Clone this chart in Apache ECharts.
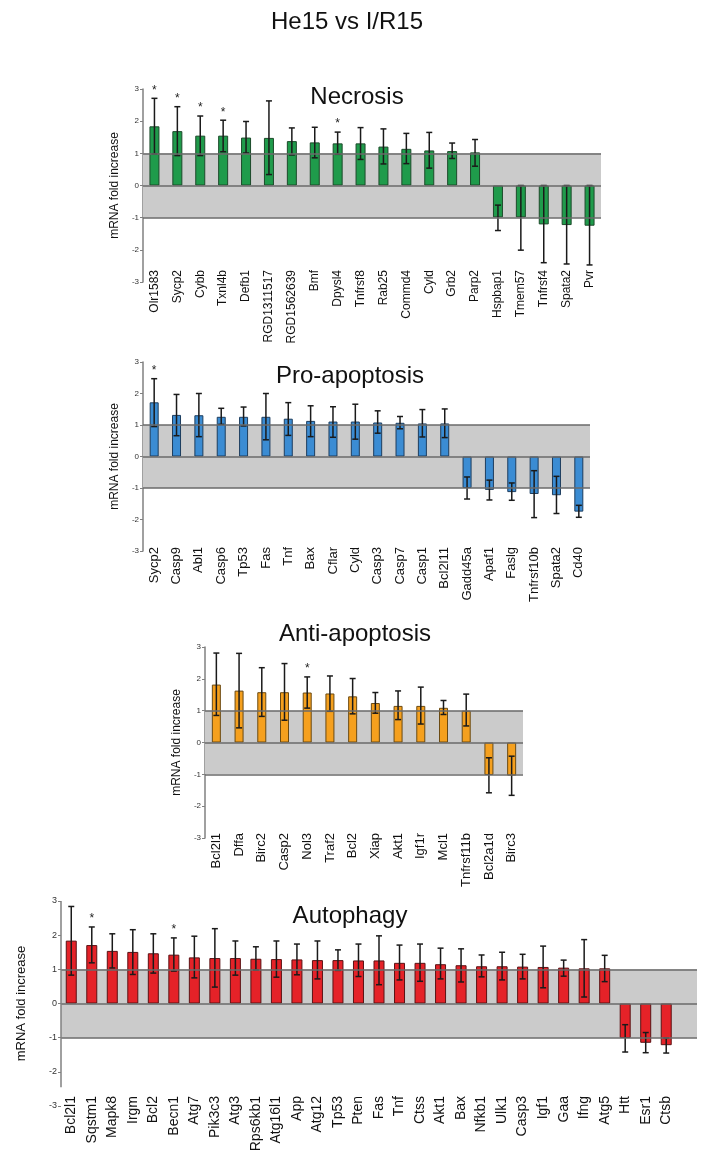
<!DOCTYPE html>
<html>
<head>
<meta charset="utf-8">
<script src="https://cdn.jsdelivr.net/npm/echarts@6/dist/echarts.min.js"></script>
<style>html,body{margin:0;padding:0;background:#fff;}#c{width:709px;height:1161px;}</style>
</head>
<body>
<div id="c"></div>
<script>
// ---------- DATA ----------
const yTicks = [-3, -2, -1, 0, 1, 2, 3];

const necCats = ['Olr1583','Sycp2','Cybb','Txnl4b','Defb1','RGD1311517','RGD1562639','Bmf','Dpysl4','Tnfrsf8','Rab25','Commd4','Cyld','Grb2','Parp2','Hspbap1','Tmem57','Tnfrsf4','Spata2','Pvr'];
const necVals = [1.84,1.69,1.55,1.55,1.49,1.48,1.38,1.34,1.31,1.31,1.21,1.14,1.09,1.07,1.03,-0.99,-0.99,-1.21,-1.23,-1.25];
const necLow  = [0.98,0.93,0.93,1.05,1.01,0.34,0.95,0.86,0.97,0.81,0.67,0.68,0.54,0.84,0.60,-1.40,-2.01,-2.40,-2.44,-2.47];
const necHigh = [2.71,2.45,2.16,2.03,1.99,2.63,1.79,1.81,1.66,1.80,1.76,1.62,1.65,1.32,1.43,-0.61,0,0,0,0];
const necSig  = [1,1,1,1,0,0,0,0,1,0,0,0,0,0,0,0,0,0,0,0];

const proCats = ['Sycp2','Casp9','Abl1','Casp6','Tp53','Fas','Tnf','Bax','Cflar','Cyld','Casp3','Casp7','Casp1','Bcl2l11','Gadd45a','Apaf1','Faslg','Tnfrsf10b','Spata2','Cd40'];
const proVals = [1.72,1.32,1.31,1.26,1.26,1.26,1.20,1.13,1.11,1.11,1.08,1.07,1.05,1.05,-1.00,-1.06,-1.13,-1.19,-1.23,-1.75];
const proLow  = [0.95,0.66,0.63,1.02,0.97,0.53,0.67,0.63,0.61,0.55,0.74,0.88,0.62,0.60,-1.35,-1.38,-1.39,-1.94,-1.81,-1.93];
const proHigh = [2.47,1.97,2.00,1.53,1.57,2.00,1.71,1.61,1.58,1.66,1.45,1.27,1.49,1.51,-0.65,-0.75,-0.84,-0.45,-0.63,-1.55];
const proSig  = [1,0,0,0,0,0,0,0,0,0,0,0,0,0,0,0,0,0,0,0];

const antiCats = ['Bcl2l1','Dffa','Birc2','Casp2','Nol3','Traf2','Bcl2','Xiap','Akt1','Igf1r','Mcl1','Tnfrsf11b','Bcl2a1d','Birc3'];
const antiVals = [1.82,1.63,1.58,1.58,1.57,1.54,1.45,1.24,1.15,1.15,1.09,1.00,-1.02,-1.04];
const antiLow  = [0.85,0.46,0.82,0.70,1.08,0.98,0.90,0.92,0.72,0.58,0.88,0.52,-1.58,-1.66];
const antiHigh = [2.81,2.80,2.35,2.48,2.06,2.09,2.01,1.57,1.62,1.74,1.32,1.52,-0.48,-0.43];
const antiSig  = [0,0,0,0,1,0,0,0,0,0,0,0,0,0];

const autoCats = ['Bcl2l1','Sqstm1','Mapk8','Irgm','Bcl2','Becn1','Atg7','Pik3c3','Atg3','Rps6kb1','Atg16l1','App','Atg12','Tp53','Pten','Fas','Tnf','Ctss','Akt1','Bax','Nfkb1','Ulk1','Casp3','Igf1','Gaa','Ifng','Atg5','Htt','Esr1','Ctsb'];
const autoVals = [1.84,1.71,1.54,1.51,1.47,1.43,1.35,1.33,1.33,1.31,1.30,1.29,1.27,1.27,1.26,1.26,1.19,1.19,1.15,1.12,1.09,1.09,1.08,1.07,1.05,1.03,1.03,-1.01,-1.15,-1.22];
const autoLow  = [0.83,1.19,1.04,0.85,0.89,0.95,0.75,0.48,0.83,0.98,0.77,0.84,0.72,0.97,0.79,0.55,0.69,0.65,0.72,0.63,0.78,0.69,0.72,0.46,0.80,0.19,0.64,-1.42,-1.44,-1.45];
const autoHigh = [2.84,2.24,2.04,2.16,2.04,1.92,1.97,2.19,1.83,1.66,1.83,1.74,1.83,1.57,1.74,1.98,1.71,1.74,1.62,1.60,1.42,1.50,1.44,1.68,1.27,1.87,1.41,-0.62,-0.85,-1.01];
const autoSig  = [0,1,0,0,0,1,0,0,0,0,0,0,0,0,0,0,0,0,0,0,0,0,0,0,0,0,0,0,0,0];

const mainTitle = 'He15 vs I/R15';
const panelTitles = ['Necrosis','Pro-apoptosis','Anti-apoptosis','Autophagy'];
const yName = 'mRNA fold increase';

// ---------- LAYOUT / STYLE ----------
const FONT = "'Liberation Sans', Arial, Helvetica, sans-serif";
const panels = [
  {cats: necCats, vals: necVals, lo: necLow, hi: necHigh, sig: necSig, color: '#1f9b4b', border: '#1c4a2a',
   grid: {left: 143, right: 108, top: 89, bottom: 879}, barW: 10, labelSize: 12, labelMargin: -12,
   nameSize: 12, nameGap: 22, tickSize: 8, title: {x: 352, y: 80}, extra: 0, axisEnd: null},
  {cats: proCats, vals: proVals, lo: proLow, hi: proHigh, sig: proSig, color: '#3b8cd3', border: '#1d3d5e',
   grid: {left: 143, right: 119, top: 362, bottom: 610}, barW: 9, labelSize: 13, labelMargin: -4,
   nameSize: 12, nameGap: 22, tickSize: 8, title: {x: 345, y: 359}, extra: 0, axisEnd: null},
  {cats: antiCats, vals: antiVals, lo: antiLow, hi: antiHigh, sig: antiSig, color: '#f5a01e', border: '#6b4a12',
   grid: {left: 205, right: 186, top: 647, bottom: 323}, barW: 9, labelSize: 13, labelMargin: -5,
   nameSize: 12, nameGap: 22, tickSize: 8, title: {x: 350, y: 617}, extra: 0, axisEnd: null},
  {cats: autoCats, vals: autoVals, lo: autoLow, hi: autoHigh, sig: autoSig, color: '#e52228', border: '#5a1214',
   grid: {left: 61, right: 12, top: 901, bottom: 55}, barW: 11, labelSize: 14, labelMargin: -10,
   nameSize: 13, nameGap: 33, tickSize: 9, title: {x: 345, y: 899}, extra: 1, axisEnd: -2.45}
];

const grids = [], xAxes = [], yAxes = [], series = [];
const titles = [{text: mainTitle, left: 342, top: 5, textAlign: 'center',
  textStyle: {fontFamily: FONT, fontSize: 24, fontWeight: 'normal', color: '#111'}}];

function errRender(params, api) {
  const x = api.value(0);
  const p1 = api.coord([x, api.value(1)]);
  const p2 = api.coord([x, api.value(2)]);
  const cw = 3;
  const st = {stroke: '#1a1a1a', lineWidth: 1.5};
  return {type: 'group', children: [
    {type: 'line', shape: {x1: p1[0], y1: p1[1], x2: p2[0], y2: p2[1]}, style: st},
    {type: 'line', shape: {x1: p1[0]-cw, y1: p1[1], x2: p1[0]+cw, y2: p1[1]}, style: st},
    {type: 'line', shape: {x1: p2[0]-cw, y1: p2[1], x2: p2[0]+cw, y2: p2[1]}, style: st}
  ]};
}
function starRender(params, api) {
  const p = api.coord([api.value(0), api.value(1)]);
  return {type: 'text', x: p[0], y: p[1] - 2,
    style: {text: '*', fontSize: 12, fontFamily: FONT, fill: '#222', align: 'center', verticalAlign: 'bottom'}};
}
function axisLineRender(params, api) {
  const a = api.coord([0, api.value(0)]);
  const b = api.coord([0, api.value(1)]);
  const x = params.coordSys.x;
  return {type: 'line', shape: {x1: x, y1: a[1], x2: x, y2: b[1]},
    style: {stroke: '#808080', lineWidth: 1.5}};
}

panels.forEach((p, i) => {
  grids.push(Object.assign({containLabel: false}, p.grid));
  const axisData = p.extra ? p.cats.concat(['']) : p.cats.slice();
  xAxes.push({type: 'category', gridIndex: i, data: axisData, position: 'bottom',
    axisLine: {show: false, onZero: false}, axisTick: {show: false},
    axisLabel: {interval: 0, rotate: 90, margin: p.labelMargin, fontSize: p.labelSize, fontFamily: FONT, color: '#111'}});
  xAxes.push({type: 'category', gridIndex: i, data: axisData, position: 'bottom',
    axisLine: {show: false, onZero: true}, axisTick: {show: true, alignWithLabel: true, length: 3, lineStyle: {color: '#444'}},
    axisLabel: {show: false}});
  yAxes.push({type: 'value', gridIndex: i, min: yTicks[0], max: yTicks[yTicks.length-1], interval: 1,
    name: yName, nameLocation: 'middle', nameGap: p.nameGap, nameRotate: 90,
    nameTextStyle: {fontFamily: FONT, fontSize: p.nameSize, color: '#111'},
    axisLine: {show: p.axisEnd === null, lineStyle: {color: '#808080', width: 1.5}},
    axisTick: {show: true, length: 3, lineStyle: {color: '#808080'}},
    axisLabel: {fontSize: p.tickSize, fontFamily: FONT, color: '#333', margin: 4},
    splitLine: {show: false}});
  titles.push({text: panelTitles[i], left: p.title.x, top: p.title.y, textAlign: 'center',
    textStyle: {fontFamily: FONT, fontSize: 24, fontWeight: 'normal', color: '#111'}});

  const xi = i * 2;
  series.push({type: 'line', xAxisIndex: xi, yAxisIndex: i, data: [], silent: true, z: 1,
    markArea: {silent: true, itemStyle: {color: '#cbcbcb'}, data: [[{yAxis: -1}, {yAxis: 1}]]},
    markLine: {silent: true, symbol: 'none', label: {show: false},
      lineStyle: {color: '#6a6a6a', width: 1.5, type: 'solid'},
      data: [{yAxis: 1}, {yAxis: 0}, {yAxis: -1}]}});
  if (p.axisEnd !== null) {
    series.push({type: 'custom', xAxisIndex: xi, yAxisIndex: i, z: 5, silent: true,
      renderItem: axisLineRender, data: [[yTicks[yTicks.length-1], p.axisEnd]]});
  }
  series.push({type: 'bar', xAxisIndex: xi, yAxisIndex: i, data: p.vals, barWidth: p.barW, z: 3,
    itemStyle: {color: p.color, borderColor: p.border, borderWidth: 1}});
  series.push({type: 'custom', xAxisIndex: xi, yAxisIndex: i, z: 4, renderItem: errRender,
    data: p.vals.map((v, k) => [k, p.lo[k], p.hi[k]])});
  series.push({type: 'custom', xAxisIndex: xi, yAxisIndex: i, z: 4, renderItem: starRender,
    data: p.vals.map((v, k) => [k, p.hi[k]]).filter((d, k) => p.sig[k])});
});

const chart = echarts.init(document.getElementById('c'), null, {renderer: 'canvas'});
chart.setOption({animation: false, backgroundColor: '#fff', title: titles,
  grid: grids, xAxis: xAxes, yAxis: yAxes, series: series});
</script>
</body>
</html>
